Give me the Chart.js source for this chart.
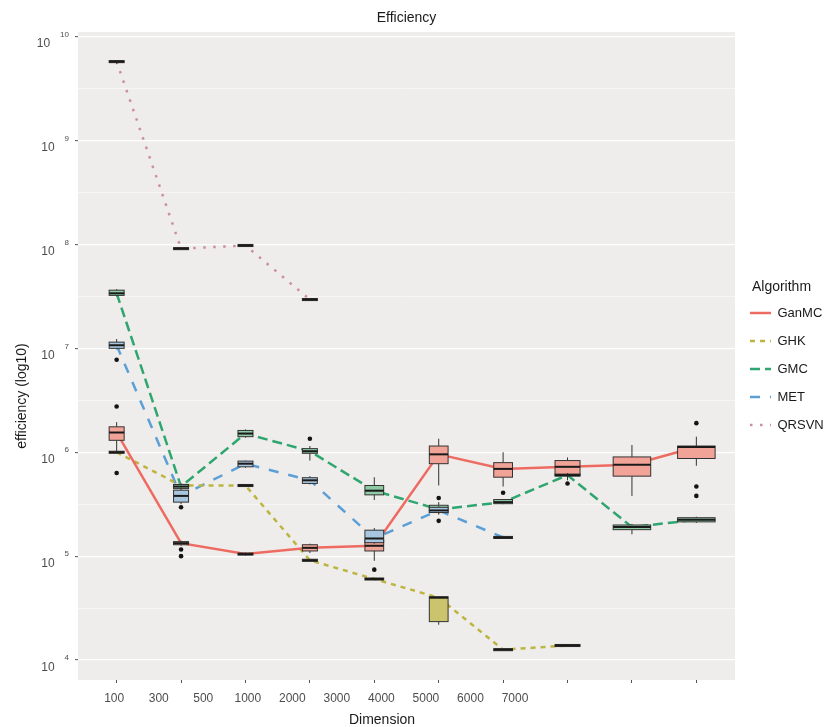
<!DOCTYPE html>
<html>
<head>
<meta charset="utf-8">
<script src="https://cdn.jsdelivr.net/npm/chart.js@4/dist/chart.umd.min.js"></script>
<style>
  html, body { margin: 0; padding: 0; background: #ffffff; }
  canvas { display: block; }
</style>
</head>
<body>
<canvas id="chart" width="828" height="727"></canvas>
<script>
// Problem dimensions (x categories, also used as tick labels)
const dimensions = ['100', '300', '500', '1000', '2000', '3000', '4000', '5000', '6000', '7000'];
const algorithms = ['GanMC', 'GHK', 'GMC', 'MET', 'QRSVN'];
// Decades shown on the y axis (log10 efficiency)
const decades = [4, 5, 6, 7, 8, 9, 10];

// log10(efficiency) box summaries per dimension; null = algorithm not run
const ganmcMedian = [6.19, 5.125, 5.02, 5.08, 5.10, 5.98, 5.84, 5.86, 5.88, 6.05];
const ganmcQ1     = [6.115, 5.11, 5.01, 5.05, 5.05, 5.89, 5.76, 5.78, 5.77, 5.94];
const ganmcQ3     = [6.245, 5.14, 5.03, 5.11, 5.155, 6.06, 5.90, 5.92, 5.955, 6.06];
const ganmcLow    = [6.00, 5.10, 5.005, 5.03, 4.955, 5.68, 5.67, 5.73, 5.58, 5.87];
const ganmcHigh   = [6.29, 5.15, 5.035, 5.12, 5.16, 6.13, 6.00, 5.95, 6.07, 6.15];
const ganmcOutliers = [[6.44, 5.80], [5.064, 5.00], [], [], [], [], [5.61], [5.70], [], [6.28, 5.67, 5.58]];

const ghkMedian = [6.00, 5.68, 5.68, 4.96, 4.78, 4.60, 4.10, 4.14, null, null];
const ghkQ1     = [5.99, 5.67, 5.67, 4.95, 4.77, 4.37, 4.09, 4.13, null, null];
const ghkQ3     = [6.01, 5.69, 5.69, 4.97, 4.79, 4.61, 4.11, 4.15, null, null];
const ghkLow    = [5.99, 5.67, 5.67, 4.95, 4.77, 4.34, 4.09, 4.13, null, null];
const ghkHigh   = [6.01, 5.69, 5.69, 4.97, 4.79, 4.61, 4.11, 4.15, null, null];
const ghkOutliers = [[], [], [], [], [4.87], [], [], [], [], []];

const gmcMedian = [7.53, 5.67, 6.18, 6.01, 5.63, 5.45, 5.52, 5.78, 5.28, 5.35];
const gmcQ1     = [7.51, 5.65, 6.15, 5.99, 5.59, 5.42, 5.505, 5.77, 5.255, 5.33];
const gmcQ3     = [7.56, 5.69, 6.21, 6.035, 5.68, 5.49, 5.545, 5.79, 5.30, 5.37];
const gmcLow    = [7.50, 5.65, 6.14, 5.92, 5.54, 5.40, 5.50, 5.76, 5.21, 5.32];
const gmcHigh   = [7.57, 5.70, 6.22, 6.06, 5.76, 5.52, 5.55, 5.80, 5.31, 5.38];
const gmcOutliers = [[], [], [], [6.13], [], [5.56, 5.34], [], [], [], []];

const metMedian = [7.03, 5.58, 5.89, 5.73, 5.17, 5.44, 5.18, null, null, null];
const metQ1     = [7.00, 5.52, 5.86, 5.70, 5.13, 5.42, 5.17, null, null, null];
const metQ3     = [7.06, 5.635, 5.915, 5.755, 5.25, 5.47, 5.19, null, null, null];
const metLow    = [6.99, 5.50, 5.85, 5.69, 5.12, 5.41, 5.165, null, null, null];
const metHigh   = [7.09, 5.66, 5.92, 5.77, 5.27, 5.48, 5.195, null, null, null];
const metOutliers = [[6.89], [5.47], [], [], [], [], [], [], [], []];

const qrsvnMedian = [9.76, 7.96, 7.99, 7.47, null, null, null, null, null, null];
const qrsvnQ1     = [9.75, 7.95, 7.98, 7.46, null, null, null, null, null, null];
const qrsvnQ3     = [9.77, 7.97, 8.00, 7.48, null, null, null, null, null, null];
const qrsvnLow    = [9.74, 7.95, 7.98, 7.46, null, null, null, null, null, null];
const qrsvnHigh   = [9.77, 7.97, 8.00, 7.48, null, null, null, null, null, null];
const qrsvnOutliers = [[], [], [], [], [], [], [], [], [], []];

const stats = {
  GanMC: { median: ganmcMedian, q1: ganmcQ1, q3: ganmcQ3, low: ganmcLow, high: ganmcHigh, out: ganmcOutliers },
  GHK:   { median: ghkMedian,   q1: ghkQ1,   q3: ghkQ3,   low: ghkLow,   high: ghkHigh,   out: ghkOutliers },
  GMC:   { median: gmcMedian,   q1: gmcQ1,   q3: gmcQ3,   low: gmcLow,   high: gmcHigh,   out: gmcOutliers },
  MET:   { median: metMedian,   q1: metQ1,   q3: metQ3,   low: metLow,   high: metHigh,   out: metOutliers },
  QRSVN: { median: qrsvnMedian, q1: qrsvnQ1, q3: qrsvnQ3, low: qrsvnLow, high: qrsvnHigh, out: qrsvnOutliers }
};

// Visual style per algorithm
const styles = {
  GanMC: { line: '#EE6B62', fill: '#F2A397', dash: [] },
  GHK:   { line: '#BDB53F', fill: '#CBC46C', dash: [5, 5] },
  GMC:   { line: '#2FA66F', fill: '#8FCBA5', dash: [10, 5] },
  MET:   { line: '#5B9FD6', fill: '#A9C6E0', dash: [10, 10] },
  QRSVN: { line: '#CB8DA6', fill: '#E5B8C8', dash: [2.5, 7.5] }
};

const FONT = '"Liberation Sans", Arial, Helvetica, sans-serif';
Chart.defaults.font.family = FONT;

// Median trend lines
const lineSets = algorithms.map(a => ({
  type: 'line',
  label: a,
  data: stats[a].median.map((v, i) => (v == null ? null : { x: i, y: v })).filter(p => p),
  borderColor: styles[a].line,
  backgroundColor: styles[a].line,
  borderDash: styles[a].dash,
  borderWidth: 2.5,
  pointRadius: 0,
  tension: 0,
  fill: false,
  order: 2
}));

// Outlying runs
const outlierSets = algorithms.map(a => ({
  type: 'scatter',
  label: a + ' outliers',
  data: stats[a].out.flatMap((vals, i) => vals.map(v => ({ x: i, y: v }))),
  backgroundColor: '#141414',
  borderWidth: 0,
  pointRadius: 2.3,
  order: 1
}));

// Grey panel behind the plot
const panelPlugin = {
  id: 'panel',
  beforeDraw(chart) {
    const { ctx, chartArea: a } = chart;
    ctx.save();
    ctx.fillStyle = '#ffffff';
    ctx.fillRect(0, 0, chart.width, chart.height);
    ctx.fillStyle = '#EFEDEB';
    ctx.fillRect(a.left, a.top, a.right - a.left, a.bottom - a.top);
    ctx.restore();
  }
};

// Box-and-whisker glyphs, dodged boxes share the slot width at each dimension
const boxPlugin = {
  id: 'boxes',
  afterDatasetsDraw(chart) {
    const { ctx, chartArea: a, scales: { x, y } } = chart;
    const step = x.getPixelForValue(1) - x.getPixelForValue(0);
    ctx.save();
    ctx.beginPath();
    ctx.rect(a.left, a.top, a.right - a.left, a.bottom - a.top);
    ctx.clip();
    dimensions.forEach((d, i) => {
      const present = algorithms.filter(al => stats[al].median[i] != null);
      const w = 1.165 * step / present.length;
      const cx = x.getPixelForValue(i);
      present.forEach(al => {
        const s = stats[al];
        const yLo = y.getPixelForValue(s.low[i]);
        const yHi = y.getPixelForValue(s.high[i]);
        const y1 = y.getPixelForValue(s.q1[i]);
        const y3 = y.getPixelForValue(s.q3[i]);
        const ym = y.getPixelForValue(s.median[i]);
        ctx.strokeStyle = '#333333';
        ctx.lineWidth = 1;
        ctx.beginPath();
        ctx.moveTo(cx, yHi); ctx.lineTo(cx, y3);
        ctx.moveTo(cx, y1); ctx.lineTo(cx, yLo);
        ctx.stroke();
        ctx.fillStyle = styles[al].fill;
        ctx.fillRect(cx - w / 2, y3, w, y1 - y3);
        ctx.strokeRect(cx - w / 2, y3, w, y1 - y3);
        ctx.strokeStyle = '#1A1A1A';
        ctx.lineWidth = 2;
        ctx.beginPath();
        ctx.moveTo(cx - w / 2, ym); ctx.lineTo(cx + w / 2, ym);
        ctx.stroke();
      });
    });
    ctx.restore();
  }
};

// Power-of-ten y labels and the axis titles
const axisTextPlugin = {
  id: 'axisText',
  afterDraw(chart) {
    const { ctx, scales: { y } } = chart;
    ctx.save();
    ctx.fillStyle = '#4D4D4D';
    ctx.textBaseline = 'middle';
    decades.forEach(d => {
      const py = y.getPixelForValue(d);
      const exp = String(d);
      ctx.font = '8px ' + FONT;
      const ew = ctx.measureText(exp).width;
      const ex = 69 - ew;
      ctx.textAlign = 'left';
      ctx.fillText(exp, ex, py - 2);
      ctx.font = '12px ' + FONT;
      ctx.textAlign = 'right';
      ctx.fillText('10', ex - 10, py + 7.5);
    });
    ctx.fillStyle = '#1A1A1A';
    ctx.font = '14px ' + FONT;
    ctx.textAlign = 'center';
    ctx.fillText('Dimension', 382, 720);
    ctx.translate(22, 396);
    ctx.rotate(-Math.PI / 2);
    ctx.fillText('efficiency (log10)', 0, 0);
    ctx.restore();
  }
};

const yTicks = decades.flatMap(d => (d < 10 ? [d, d + 0.5] : [d]));

// Legend entries carry each line's dash pattern
const legendLabels = chart => {
  const items = Chart.defaults.plugins.legend.labels.generateLabels(chart);
  items.forEach(item => {
    const ds = chart.data.datasets[item.datasetIndex];
    item.lineDash = ds.borderDash || [];
    item.lineWidth = ds.borderWidth;
    item.strokeStyle = ds.borderColor;
    item.lineCap = 'butt';
  });
  return items;
};

new Chart(document.getElementById('chart'), {
  type: 'line',
  data: { datasets: [...lineSets, ...outlierSets] },
  options: {
    responsive: false,
    animation: false,
    devicePixelRatio: 1,
    events: [],
    layout: { padding: 0 },
    scales: {
      x: {
        type: 'linear',
        position: 'bottom',
        weight: 0,
        min: -0.6,
        max: 9.6,
        afterBuildTicks: s => { s.ticks = dimensions.map((d, i) => ({ value: i })); },
        afterFit: s => { s.height = 4; },
        ticks: { display: false },
        border: { display: false },
        grid: { drawOnChartArea: false, drawTicks: true, tickLength: 3, tickColor: '#555555', tickWidth: 1 }
      },
      xLabels: {
        type: 'linear',
        position: 'bottom',
        weight: 1,
        min: -0.813,
        max: 13.94,
        afterBuildTicks: s => { s.ticks = dimensions.map((d, i) => ({ value: i })); },
        afterFit: s => { s.height = 43; },
        ticks: {
          autoSkip: false,
          maxRotation: 0,
          padding: 7,
          color: '#4D4D4D',
          font: { size: 12 },
          callback: v => dimensions[v] ?? ''
        },
        border: { display: false },
        grid: { display: false, drawTicks: false }
      },
      y: {
        type: 'linear',
        position: 'left',
        min: 3.808,
        max: 10.045,
        afterBuildTicks: s => { s.ticks = yTicks.map(v => ({ value: v })); },
        afterFit: s => { s.width = 78; },
        ticks: { display: false },
        border: { display: false },
        grid: {
          drawTicks: true,
          tickLength: 3,
          color: c => (Number.isInteger(c.tick.value) ? '#FFFFFF' : 'rgba(255,255,255,0.75)'),
          lineWidth: c => (Number.isInteger(c.tick.value) ? 1.3 : 0.7),
          tickColor: c => (Number.isInteger(c.tick.value) ? '#555555' : 'rgba(0,0,0,0)'),
          tickWidth: 1
        }
      }
    },
    plugins: {
      tooltip: { enabled: false },
      title: {
        display: true,
        text: 'Efficiency',
        fullSize: false,
        color: '#1A1A1A',
        font: { size: 14, weight: 'normal' },
        padding: { top: 9.6, bottom: 5.6 }
      },
      legend: {
        display: true,
        position: 'right',
        fullSize: false,
        align: 'center',
        maxWidth: 93,
        title: {
          display: true,
          text: 'Algorithm',
          position: 'center',
          color: '#1A1A1A',
          font: { size: 14, lineHeight: 0.8 },
          padding: { top: 14.8, bottom: 0 }
        },
        labels: {
          usePointStyle: true,
          pointStyle: 'line',
          pointStyleWidth: 21,
          padding: 15,
          color: '#1A1A1A',
          font: { size: 13 },
          generateLabels: legendLabels,
          filter: (item, data) => data.datasets[item.datasetIndex].type === 'line'
        }
      }
    }
  },
  plugins: [panelPlugin, boxPlugin, axisTextPlugin]
});
</script>
</body>
</html>
